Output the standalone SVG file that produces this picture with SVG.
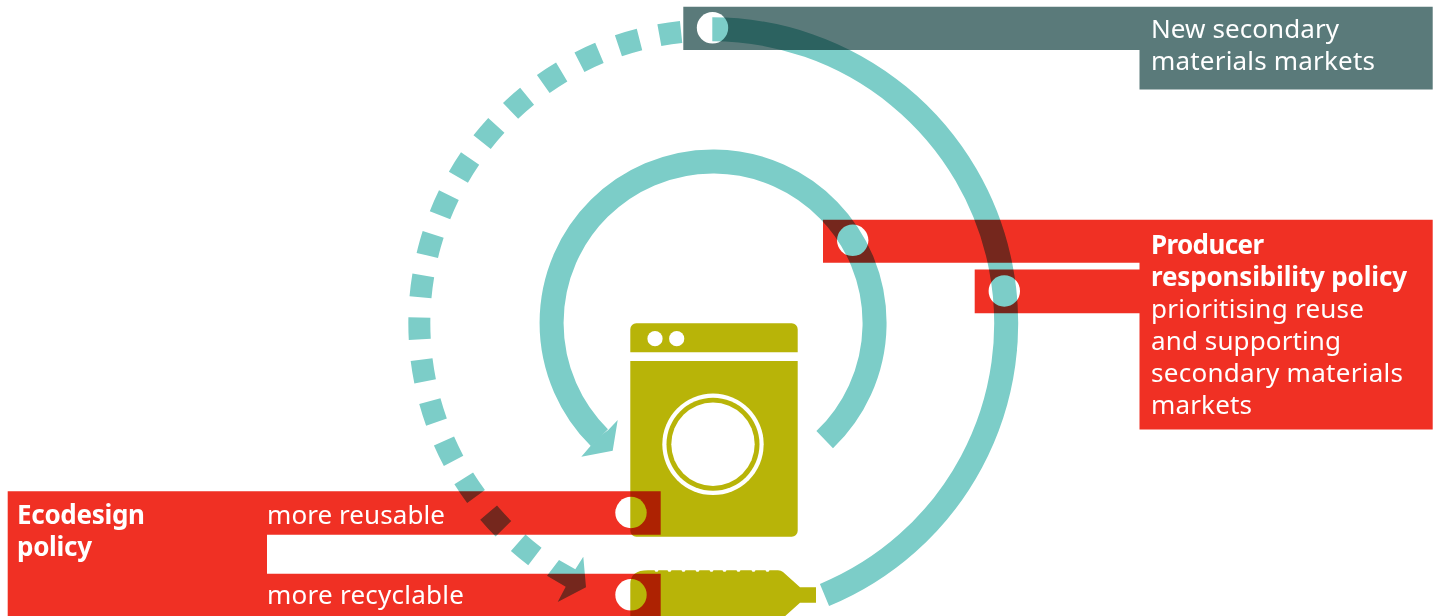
<svg xmlns="http://www.w3.org/2000/svg" width="1437" height="616" viewBox="0 0 1437 616">
<style>
.t{font-family:"Noto Sans","Open Sans","Liberation Sans",sans-serif;font-size:26px;fill:#fff}
.b{font-weight:700}
.red{fill:#f03024}
.slate{fill:#5a7a7a}
.hole{fill:#fff}
.mul{mix-blend-mode:multiply}
.olive{fill:#b8b408}
.arc{fill:none;stroke:#7ccdc8;stroke-width:24}
.dash{stroke-width:22;stroke-dasharray:22 20.3}
.tip{fill:#7ccdc8}
</style>
<rect width="1437" height="616" fill="#fff"/>
<g id="node-markets">
<path class="slate" d="M683.3 6.7H1432.7V89.5H1139.5V50H683.3Z"/>
<circle class="hole" cx="712.5" cy="27.8" r="15.7"/>
<text class="t" x="1151" y="38" textLength="188">New secondary</text>
<text class="t" x="1151" y="70" textLength="224">materials markets</text>
</g>
<g id="node-producer">
<path class="red" d="M823 219.7H1432.7V429.5H1139.5V313.3H974.7V269.5H1139.5V262.7H823Z"/>
<circle class="hole" cx="852.7" cy="240.3" r="15.7"/>
<circle class="hole" cx="1004.3" cy="291" r="15.7"/>
<text class="t b" x="1151" y="254" textLength="113">Producer</text>
<text class="t b" x="1151" y="286" textLength="256">responsibility policy</text>
<text class="t" x="1151" y="318" textLength="213">prioritising reuse</text>
<text class="t" x="1151" y="350" textLength="190">and supporting</text>
<text class="t" x="1151" y="382" textLength="252">secondary materials</text>
<text class="t" x="1151" y="414" textLength="101">markets</text>
</g>
<g id="node-ecodesign">
<path class="red" d="M7.7 491.3H660.7V534.7H267V573.7H660.7V616H7.7Z"/>
<circle class="hole" cx="631" cy="512.5" r="15.7"/>
<circle class="hole" cx="631" cy="594.8" r="15.7"/>
<text class="t b" x="17" y="524" textLength="128">Ecodesign</text>
<text class="t b" x="17" y="556" textLength="75">policy</text>
<text class="t" x="267" y="524" textLength="178">more reusable</text>
<text class="t" x="267" y="604" textLength="197">more recyclable</text>
</g>
<g id="node-machine" class="mul">
<path class="olive" d="M630.3 352.3V329.3a6 6 0 0 1 6-6H791.7a6 6 0 0 1 6 6V352.3Z"/>
<path class="olive" d="M630.3 361H797.7V530.7a6 6 0 0 1-6 6H636.3a6 6 0 0 1-6-6Z"/>
<circle class="hole" cx="655" cy="338.7" r="7.6"/>
<circle class="hole" cx="676.7" cy="338.7" r="7.6"/>
<circle class="hole" cx="713" cy="444.3" r="50.7"/>
<circle class="olive" cx="713" cy="444.3" r="46.5"/>
<circle class="hole" cx="713" cy="444.3" r="41.7"/>
</g>
<g id="node-bottle" class="mul">
<path class="olive" d="M630.3 640V584Q630.3 570.3 648 570.3H654.5l1 1.5h2l1-1.5H667.5l1 1.5h2l1-1.5H681.5l1 1.5h2l1-1.5H695.5l1 1.5h2l1-1.5H709.5l1 1.5h2l1-1.5H722.5l1 1.5h2l1-1.5H736.5l1 1.5h2l1-1.5H751.5l1 1.5h2l1-1.5H765.5l1 1.5h2l1-1.5H778Q781 570.3 783 572L800 587.3H816V602.7H800L783 618V640Z"/>
</g>
<g id="connectors">
<g class="mul">
<path class="arc" d="M712.3 29.3A294 294 0 0 1 824.5 595"/>
</g>
<g class="mul">
<path class="arc" d="M824.7 439.7A161.5 161.5 0 1 0 599.5 437.8"/>
<polygon class="tip" points="617.7,420 612.7,450.7 581.3,456.7 590.7,445.7 600,436 608.3,430"/>
</g>
<g class="mul">
<path class="arc dash" d="M681.1 32A293 293 0 0 0 534.9 556.5"/>
<polygon class="tip" points="559,560 575.3,569.3 583.3,556.7 586,587.3 557.7,602 565.7,586.7 547,575.7"/>
</g>
</g>
</svg>
